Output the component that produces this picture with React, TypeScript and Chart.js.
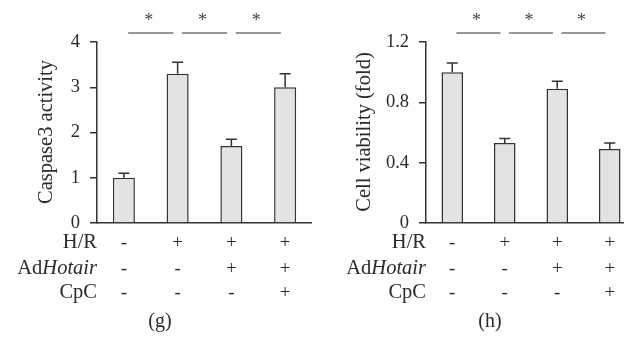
import React, { useEffect, useRef } from 'react';
import { Chart, registerables } from 'chart.js';

Chart.register(...registerables);

// ---- data ----
const conditions = ['Control', 'H/R', 'H/R + AdHotair', 'H/R + AdHotair + CpC'];
const hrRow = ['-', '+', '+', '+'];
const adHotairRow = ['-', '-', '+', '+'];
const cpcRow = ['-', '-', '-', '+'];

const caspaseValues = [1.0, 3.3, 1.7, 3.0];
const caspaseErrors = [0.1, 0.25, 0.15, 0.3];
const caspaseTicks = [0, 1, 2, 3, 4];

const viabilityValues = [1.0, 0.53, 0.89, 0.49];
const viabilityErrors = [0.06, 0.03, 0.05, 0.04];
const viabilityTicks = [0, 0.4, 0.8, 1.2];

const comparisons = [[0, 1], [1, 2], [2, 3]];
const sigMarks = ['*', '*', '*'];

// ---- style ----
const INK = '#2a2a2a';
const LINE = '#333333';
const BAR_FILL = '#e3e3e3';
const FAMILY = "'Liberation Serif', 'Times New Roman', serif";

type PanelCfg = {
  values: number[];
  errors: number[];
  ticks: number[];
  title: string;
  caption: string;
  axisX: number;
  titleX: number;
  captionX: number;
};

function extrasPlugin(cfg: PanelCfg) {
  return {
    id: 'extras',
    afterDatasetsDraw(chart: any) {
      const ctx: CanvasRenderingContext2D = chart.ctx;
      const xs = chart.scales.x;
      const ys = chart.scales.y;
      const area = chart.chartArea;
      ctx.save();
      // error bars
      ctx.strokeStyle = LINE;
      ctx.lineWidth = 1.5;
      cfg.values.forEach((v, i) => {
        const cx = xs.getPixelForValue(i);
        const yTop = ys.getPixelForValue(v);
        const yErr = ys.getPixelForValue(v + cfg.errors[i]);
        ctx.beginPath();
        ctx.moveTo(cx, yTop);
        ctx.lineTo(cx, yErr);
        ctx.moveTo(cx - 5.5, yErr);
        ctx.lineTo(cx + 5.5, yErr);
        ctx.stroke();
      });
      // significance lines and stars
      comparisons.forEach(([a, b], k) => {
        const xa = xs.getPixelForValue(a);
        const xb = xs.getPixelForValue(b);
        const mid = (xa + xb) / 2;
        const half = (xb - xa) * 0.42;
        const ly = area.top - 9;
        ctx.strokeStyle = LINE;
        ctx.lineWidth = 1.2;
        ctx.beginPath();
        ctx.moveTo(mid - half, ly);
        ctx.lineTo(mid + half, ly);
        ctx.stroke();
        ctx.fillStyle = '#444';
        ctx.font = `18px ${FAMILY}`;
        ctx.textAlign = 'center';
        ctx.textBaseline = 'alphabetic';
        ctx.fillText(sigMarks[k], mid - 2, area.top - 16);
      });
      // y title
      ctx.fillStyle = INK;
      ctx.font = `20.5px ${FAMILY}`;
      ctx.save();
      ctx.translate(cfg.titleX, 132);
      ctx.rotate(-Math.PI / 2);
      ctx.textAlign = 'center';
      ctx.textBaseline = 'middle';
      ctx.fillText(cfg.title, 0, 0);
      ctx.restore();
      // table
      const rows = [hrRow, adHotairRow, cpcRow];
      const rowY = [247.5, 274, 298];
      const labelRight = area.left;
      const tf = 20.5;
      ctx.textBaseline = 'alphabetic';
      rows.forEach((row, r) => {
        const yb = rowY[r];
        ctx.textAlign = 'right';
        if (r === 1) {
          ctx.font = `italic ${tf}px ${FAMILY}`;
          const w = ctx.measureText('Hotair').width;
          ctx.fillText('Hotair', labelRight, yb);
          ctx.font = `${tf}px ${FAMILY}`;
          ctx.fillText('Ad', labelRight - w, yb);
        } else {
          ctx.font = `${tf}px ${FAMILY}`;
          ctx.fillText(r === 0 ? 'H/R' : 'CpC', labelRight, yb);
        }
        ctx.textAlign = 'center';
        ctx.font = `19px ${FAMILY}`;
        row.forEach((m, i) => {
          ctx.fillText(m, xs.getPixelForValue(i), yb);
        });
      });
      // caption
      ctx.textAlign = 'center';
      ctx.font = `20px ${FAMILY}`;
      ctx.fillText(cfg.caption, cfg.captionX, 327);
      ctx.restore();
    },
  };
}

function makeChart(canvas: HTMLCanvasElement, cfg: PanelCfg) {
  return new Chart(canvas, {
    type: 'bar',
    data: {
      labels: conditions,
      datasets: [
        {
          data: cfg.values,
          backgroundColor: BAR_FILL,
          borderColor: LINE,
          borderWidth: 1.5,
          borderSkipped: 'start',
          barPercentage: 0.41,
          categoryPercentage: 1,
        },
      ],
    },
    options: {
      responsive: false,
      animation: false,
      layout: { padding: { top: 42, bottom: 118, left: 0, right: 0 } },
      plugins: { legend: { display: false }, tooltip: { enabled: false } },
      scales: {
        x: {
          grid: { display: false },
          ticks: { display: false },
          border: { display: true, color: LINE, width: 1.5 },
          afterFit: (s: any) => {
            s.height = 0;
          },
        },
        y: {
          min: 0,
          max: cfg.ticks[cfg.ticks.length - 1],
          afterBuildTicks: (s: any) => {
            s.ticks = cfg.ticks.map((v) => ({ value: v }));
          },
          grid: {
            drawOnChartArea: false,
            drawTicks: true,
            tickLength: 7,
            color: LINE,
            lineWidth: 1.5,
          },
          border: { display: true, color: LINE, width: 1.5 },
          ticks: {
            padding: 10,
            color: INK,
            font: { family: FAMILY, size: 18.5 },
            callback: (v: any) => String(Math.round(Number(v) * 10) / 10),
          },
          afterFit: (s: any) => {
            s.width = cfg.axisX;
          },
        },
      },
    },
    plugins: [extrasPlugin(cfg)],
  } as any);
}

export default function App() {
  const leftRef = useRef<HTMLCanvasElement>(null);
  const rightRef = useRef<HTMLCanvasElement>(null);

  useEffect(() => {
    const left = makeChart(leftRef.current!, {
      values: caspaseValues,
      errors: caspaseErrors,
      ticks: caspaseTicks,
      title: 'Caspase3 activity',
      caption: '(g)',
      axisX: 97,
      titleX: 47,
      captionX: 160,
    });
    const right = makeChart(rightRef.current!, {
      values: viabilityValues,
      errors: viabilityErrors,
      ticks: viabilityTicks,
      title: 'Cell viability (fold)',
      caption: '(h)',
      axisX: 114,
      titleX: 53,
      captionX: 178,
    });
    return () => {
      left.destroy();
      right.destroy();
    };
  }, []);

  return (
    <div
      style={{
        position: 'fixed',
        left: 0,
        top: 0,
        width: 624,
        height: 341,
        overflow: 'hidden',
        background: '#fff',
      }}
    >
      <canvas
        ref={leftRef}
        width={312}
        height={341}
        style={{ position: 'absolute', left: 0, top: 0 }}
      />
      <canvas
        ref={rightRef}
        width={324}
        height={341}
        style={{ position: 'absolute', left: 312, top: 0 }}
      />
    </div>
  );
}
